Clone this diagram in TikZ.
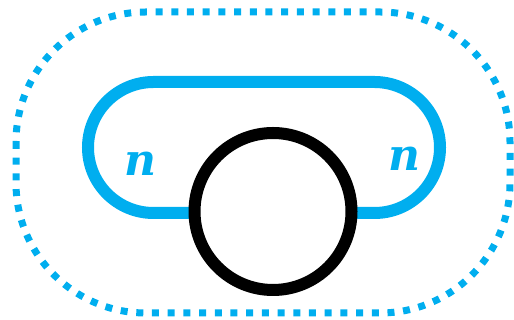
\documentclass[tikz,border=0pt]{standalone}
\usepackage{fontspec}
\newfontfamily\lblfont{DejaVu Serif}
\definecolor{cy}{HTML}{00AEEF}
\begin{document}
\begin{tikzpicture}[x=1pt,y=1pt,
  lbl/.style={text=cy,inner sep=0pt,font=\lblfont\bfseries\itshape\fontsize{44}{44}\selectfont},
  dotline/.style={draw=cy,line width=7pt,dash pattern=on 7pt off 8.7pt},
  loopline/.style={draw=cy,line width=12pt},
  ring/.style={draw=black,line width=12pt,fill=white,circle,inner sep=0pt,minimum size=157pt}]
\useasboundingbox (0,0) rectangle (514,320);
\draw[dotline,rounded corners=130pt] (16,308) rectangle (510,7);
\draw[loopline,rounded corners=65.5pt] (88,238) rectangle (440,107);
\node[ring] (c) at (273,108.5) {};
\node[lbl] (n1) at (140,156.5) {n};
\node[lbl] (n2) at (404.5,161) {n};
\end{tikzpicture}
\end{document}
